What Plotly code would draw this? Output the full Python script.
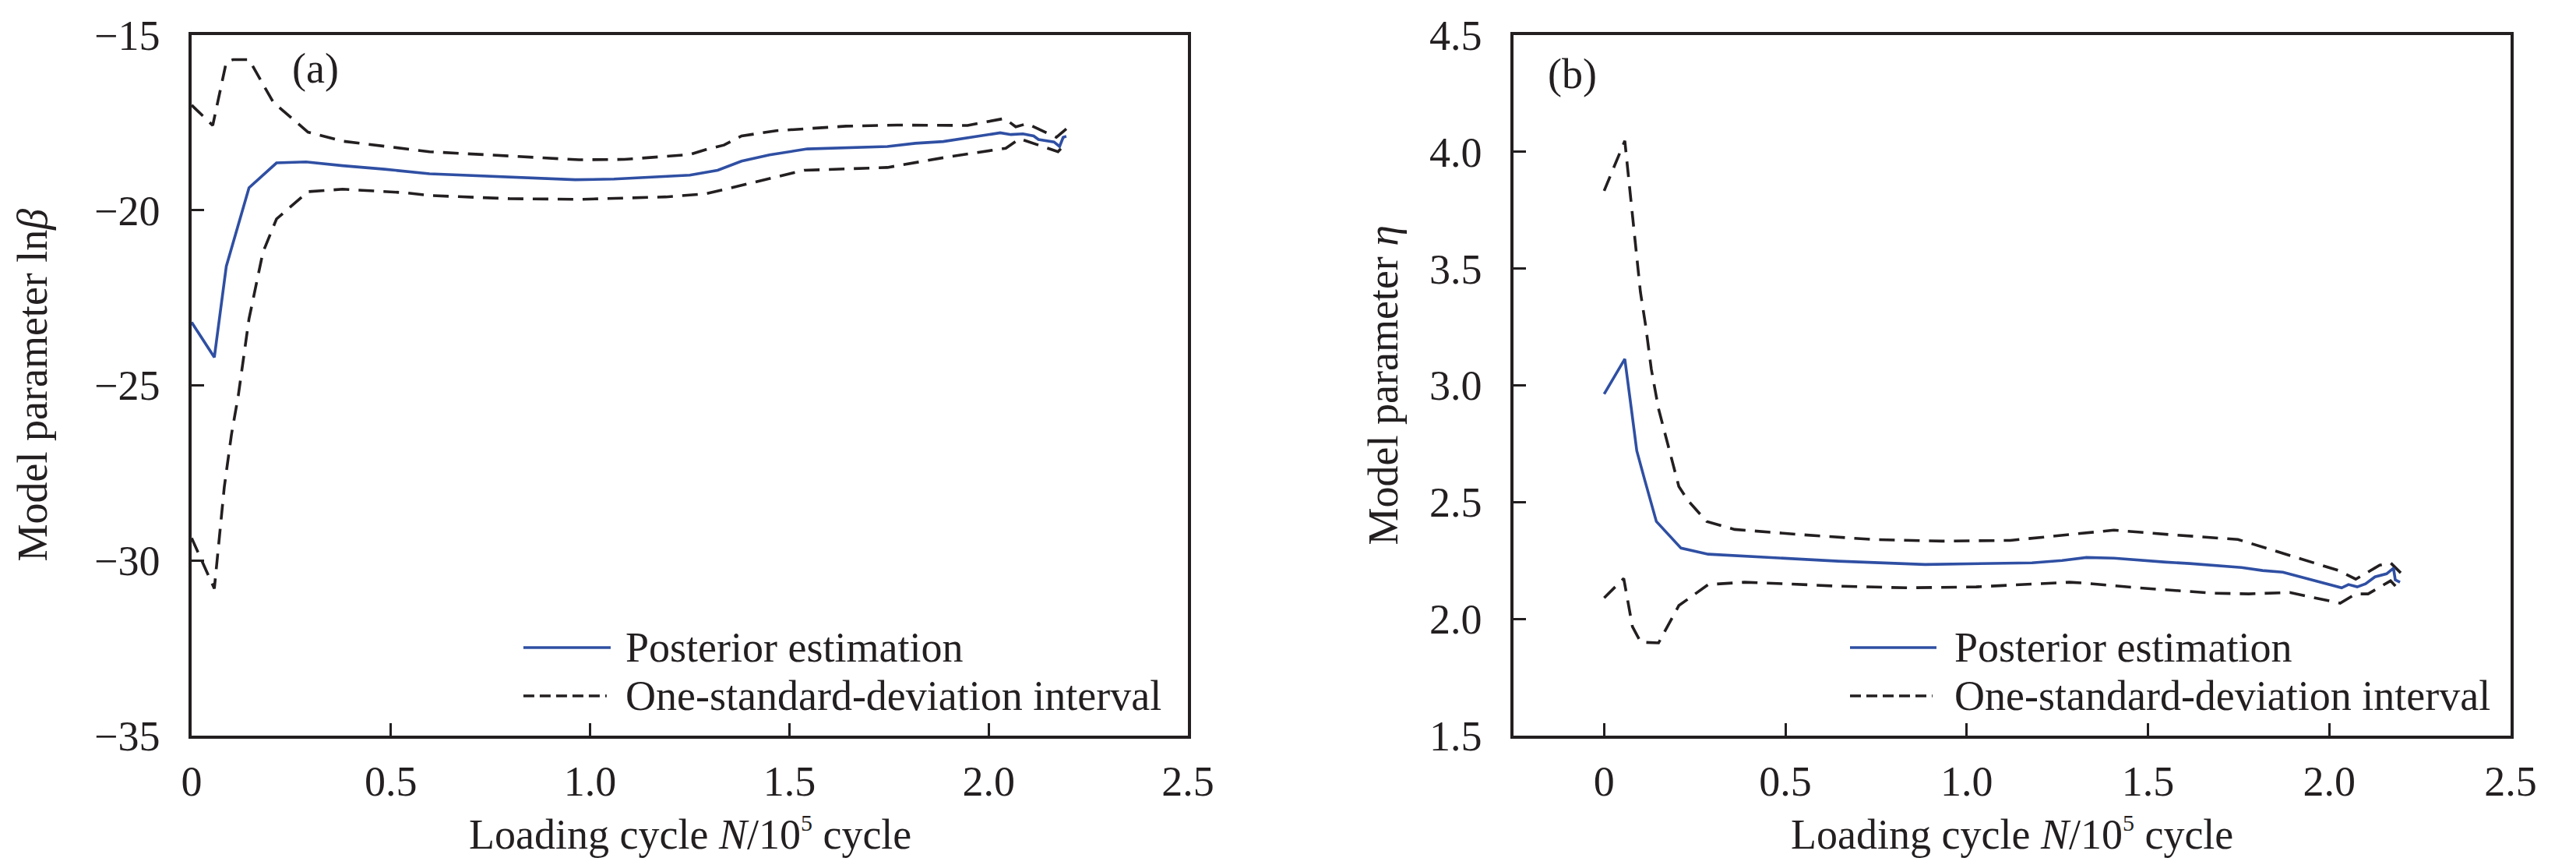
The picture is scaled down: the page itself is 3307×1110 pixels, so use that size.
import plotly.graph_objects as go

# ---------------- data: panel (a) ln(beta) ----------------
a_post_x = [0.0, 0.057, 0.087, 0.144, 0.213, 0.287, 0.379, 0.484, 0.597, 0.754, 0.963, 1.06, 1.18, 1.25,
            1.32, 1.38, 1.45, 1.545, 1.746, 1.816, 1.886, 1.955, 2.029, 2.056, 2.086, 2.113, 2.125, 2.164,
            2.178, 2.187, 2.195]
a_post_y = [-23.2, -24.2, -21.6, -19.36, -18.65, -18.62, -18.73, -18.83, -18.96, -19.03, -19.13, -19.11, -19.05,
            -19.0, -18.86, -18.6, -18.42, -18.25, -18.18, -18.09, -18.04, -17.92, -17.79, -17.84, -17.82, -17.88,
            -17.98, -18.05, -18.18, -17.92, -17.89]

a_up_x = [0.0, 0.053, 0.087, 0.104, 0.144, 0.205, 0.292, 0.379, 0.597, 0.797, 0.972, 1.086, 1.19, 1.25, 1.29,
          1.336, 1.38, 1.467, 1.642, 1.77, 1.947, 2.04, 2.068, 2.096, 2.17, 2.195]
a_up_y = [-17.0, -17.58, -15.77, -15.7, -15.7, -16.92, -17.77, -18.03, -18.33, -18.45, -18.56, -18.55, -18.47,
          -18.41, -18.27, -18.14, -17.88, -17.73, -17.6, -17.57, -17.58, -17.38, -17.62, -17.53, -17.92, -17.68]

a_lo_x = [0.0, 0.057, 0.082, 0.1, 0.117, 0.144, 0.179, 0.213, 0.292, 0.379, 0.535, 0.597, 0.797, 0.972, 1.19,
          1.29, 1.38, 1.537, 1.642, 1.746, 1.902, 2.043, 2.078, 2.174, 2.195]
a_lo_y = [-29.36, -30.8, -27.9, -26.4, -25.3, -23.1, -21.2, -20.25, -19.47, -19.4, -19.5, -19.58, -19.67, -19.69,
          -19.62, -19.53, -19.29, -18.86, -18.82, -18.78, -18.47, -18.23, -17.96, -18.33, -18.07]

# ---------------- data: panel (b) eta ----------------
b_post_x = [0.0, 0.057, 0.075, 0.09, 0.111, 0.144, 0.212, 0.287, 0.646, 0.885, 1.18, 1.263, 1.33, 1.406, 1.55,
            1.615, 1.758, 1.816, 1.872, 2.034, 2.053, 2.077, 2.1, 2.126, 2.158, 2.177, 2.182, 2.195]
b_post_y = [2.963, 3.113, 2.9, 2.72, 2.6, 2.417, 2.303, 2.277, 2.247, 2.233, 2.24, 2.25, 2.263, 2.26, 2.243,
            2.237, 2.22, 2.207, 2.2, 2.133, 2.147, 2.137, 2.15, 2.18, 2.193, 2.217, 2.167, 2.157]

b_up_x = [0.0, 0.057, 0.072, 0.087, 0.1, 0.115, 0.13, 0.15, 0.178, 0.206, 0.231, 0.283, 0.36, 0.55, 0.74, 0.932,
          1.12, 1.28, 1.406, 1.568, 1.748, 1.853, 2.026, 2.073, 2.139, 2.169, 2.197]
b_up_y = [3.833, 4.047, 3.82, 3.59, 3.4, 3.25, 3.07, 2.9, 2.73, 2.567, 2.507, 2.417, 2.383, 2.36, 2.34, 2.333,
          2.336, 2.36, 2.38, 2.36, 2.34, 2.29, 2.207, 2.17, 2.23, 2.24, 2.197]

b_lo_x = [0.0, 0.054, 0.078, 0.101, 0.15, 0.206, 0.287, 0.387, 0.503, 0.646, 0.836, 1.026, 1.283, 1.325, 1.472,
          1.682, 1.778, 1.891, 2.03, 2.073, 2.107, 2.169, 2.197]
b_lo_y = [2.09, 2.173, 1.967, 1.9, 1.897, 2.057, 2.147, 2.157, 2.15, 2.14, 2.133, 2.137, 2.157, 2.153, 2.133,
          2.11, 2.107, 2.113, 2.067, 2.107, 2.107, 2.163, 2.117]

# ---------------- ticks & labels ----------------
x_tickvals = [0, 0.5, 1.0, 1.5, 2.0, 2.5]
x_ticktext = ["0", "0.5", "1.0", "1.5", "2.0", "2.5"]
a_y_tickvals = [-35, -30, -25, -20, -15]
a_y_ticktext = ["\u221235", "\u221230", "\u221225", "\u221220", "\u221215"]
b_y_tickvals = [1.5, 2.0, 2.5, 3.0, 3.5, 4.0, 4.5]
b_y_ticktext = ["1.5", "2.0", "2.5", "3.0", "3.5", "4.0", "4.5"]
legend_labels = ["Posterior estimation", "One-standard-deviation interval"]
x_title = "Loading cycle <i>N</i>/10<sup><span style='font-size:30px'>5</span></sup> cycle"
a_y_title = "Model parameter ln<i>\u03b2</i>"
b_y_title = "Model parameter <i>\u03b7</i>"

# ---------------- styling ----------------
W, H = 3307, 1110
FONT = "Liberation Serif, Times New Roman, serif"
INK = "#231f20"
BLUE = "#2f4fa3"
FS = 54
LW = 3.6

def px_x(p):
    return p / W

def px_y(p):
    return 1 - p / H

a_dom_x = [px_x(238), px_x(1517)]
b_dom_x = [px_x(1935), px_x(3215)]
dom_y = [px_y(936), px_y(37)]

fig = go.Figure()

line_post = dict(color=BLUE, width=LW)
line_sd = dict(color=INK, width=LW, dash="20px,12px")

fig.add_trace(go.Scatter(x=a_up_x, y=a_up_y, mode="lines", line=line_sd, xaxis="x", yaxis="y", showlegend=False))
fig.add_trace(go.Scatter(x=a_lo_x, y=a_lo_y, mode="lines", line=line_sd, xaxis="x", yaxis="y", showlegend=False))
fig.add_trace(go.Scatter(x=a_post_x, y=a_post_y, mode="lines", line=line_post, xaxis="x", yaxis="y", showlegend=False))

fig.add_trace(go.Scatter(x=b_up_x, y=b_up_y, mode="lines", line=line_sd, xaxis="x2", yaxis="y2", showlegend=False))
fig.add_trace(go.Scatter(x=b_lo_x, y=b_lo_y, mode="lines", line=line_sd, xaxis="x2", yaxis="y2", showlegend=False))
fig.add_trace(go.Scatter(x=b_post_x, y=b_post_y, mode="lines", line=line_post, xaxis="x2", yaxis="y2", showlegend=False))

common_axis = dict(
    showline=True, linewidth=3.5, linecolor=INK, mirror=True,
    ticks="inside", ticklen=16, tickwidth=3, tickcolor=INK,
    showgrid=False, zeroline=False, automargin=False,
    tickfont=dict(family=FONT, size=FS, color=INK),
)

fig.update_layout(
    width=W, height=H,
    margin=dict(l=0, r=0, t=0, b=0),
    paper_bgcolor="white", plot_bgcolor="white",
    font=dict(family=FONT, size=FS, color=INK),
    showlegend=False,
    xaxis=dict(domain=a_dom_x, range=[0, 2.5], tickvals=x_tickvals, ticktext=x_ticktext,
               anchor="y", ticklabelstandoff=8, **common_axis),
    yaxis=dict(domain=dom_y, range=[-35, -15], tickvals=a_y_tickvals, ticktext=a_y_ticktext,
               anchor="x", ticklabelstandoff=26, **common_axis),
    xaxis2=dict(domain=b_dom_x, range=[-0.25, 2.5], tickvals=x_tickvals, ticktext=x_ticktext,
                anchor="y2", ticklabelstandoff=8, **common_axis),
    yaxis2=dict(domain=dom_y, range=[1.5, 4.5], tickvals=b_y_tickvals, ticktext=b_y_ticktext,
                anchor="x2", ticklabelstandoff=26, **common_axis),
)

annotations = []
# axis titles
for xr in ["x domain", "x2 domain"]:
    annotations.append(dict(text=x_title, xref=xr, yref="paper", x=0.5, y=px_y(1062),
                            xanchor="center", yanchor="middle", showarrow=False,
                            font=dict(family=FONT, size=FS, color=INK)))
annotations.append(dict(text=a_y_title, xref="paper", yref="y domain", x=px_x(33), y=0.5, textangle=-90,
                         xanchor="center", yanchor="middle", showarrow=False,
                         font=dict(family=FONT, size=FS, color=INK)))
annotations.append(dict(text=b_y_title, xref="paper", yref="y2 domain", x=px_x(1767), y=0.5, textangle=-90,
                         xanchor="center", yanchor="middle", showarrow=False,
                         font=dict(family=FONT, size=FS, color=INK)))
# panel labels
annotations.append(dict(text="(a)", xref="paper", yref="paper", x=px_x(397), y=px_y(80),
                         xanchor="center", yanchor="middle", showarrow=False,
                         font=dict(family=FONT, size=FS, color=INK)))
annotations.append(dict(text="(b)", xref="paper", yref="paper", x=px_x(2011), y=px_y(87),
                         xanchor="center", yanchor="middle", showarrow=False,
                         font=dict(family=FONT, size=FS, color=INK)))

shapes = []
# manual legends (sample lines + labels) for both panels
legend_pos = [("x domain", "y domain", 0.333, 0.4206, 0.434),
              ("x2 domain", "y2 domain", 0.3375, 0.4242, 0.4406)]
row_y = [(936 - 823) / 899, (936 - 885) / 899]
for xr, yr, x0, x1, xt in legend_pos:
    shapes.append(dict(type="line", xref=xr, yref=yr, x0=x0, x1=x1, y0=row_y[0], y1=row_y[0],
                       line=dict(color=BLUE, width=LW)))
    shapes.append(dict(type="line", xref=xr, yref=yr, x0=x0, x1=x1 - 0.004, y0=row_y[1], y1=row_y[1],
                       line=dict(color=INK, width=LW, dash="14px,7px")))
    for lbl, ry in zip(legend_labels, row_y):
        annotations.append(dict(text=lbl, xref=xr, yref=yr, x=xt, y=ry, xanchor="left", yanchor="middle",
                                showarrow=False, font=dict(family=FONT, size=FS, color=INK)))

fig.update_layout(annotations=annotations, shapes=shapes)

fig.write_html("out.html")
